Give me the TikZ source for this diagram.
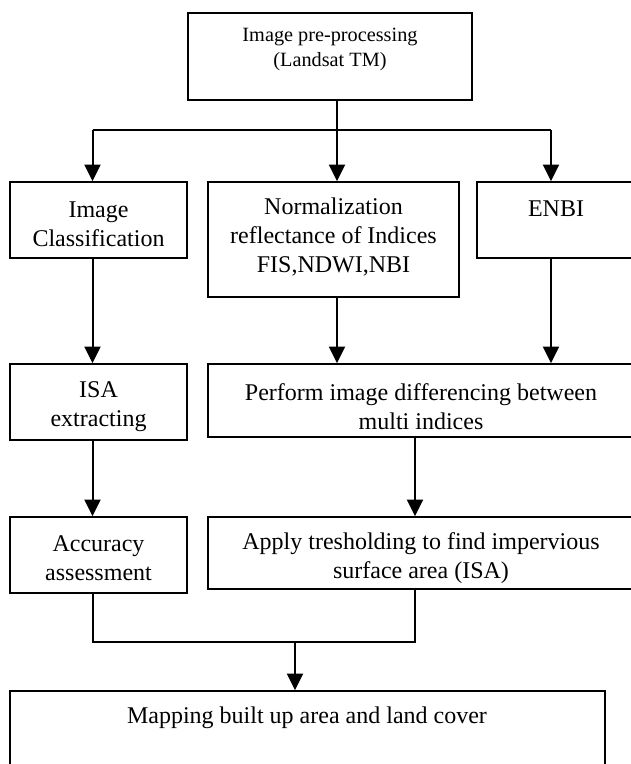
\documentclass[tikz,border=0pt]{standalone}
\usepackage{fontspec}
\setmainfont{Liberation Serif}
\usetikzlibrary{arrows.meta,fit,calc}
\begin{document}
\begin{tikzpicture}[x=0.75pt,y=-0.75pt,
  box/.style={draw=black,line width=1.2pt,inner sep=0pt,fill=none},
  txt/.style={align=center,inner sep=0pt,font=\fontsize{18}{21.75}\selectfont},
  smalltxt/.style={align=center,inner sep=0pt,font=\fontsize{15.2}{18.75}\selectfont},
  conn/.style={line width=1.5pt},
  arr/.style={line width=1.5pt,-{Triangle[length=12.5pt,width=12pt]}}]
\useasboundingbox (0,0) rectangle (631,764);
\fill[white] (0,0) rectangle (631,764);
\clip (0,0) rectangle (631,764);
% boxes
\node[box,fit={(188,13) (472,100)}] (top) {};
\node[box,fit={(10,182) (187,258)}] (cls) {};
\node[box,fit={(208,182) (459,297)}] (norm) {};
\node[box,fit={(477,182) (636,258)}] (enbi) {};
\node[box,fit={(10,364) (187,440)}] (isa) {};
\node[box,fit={(208,364) (636,437)}] (perf) {};
\node[box,fit={(10,517) (187,593)}] (acc) {};
\node[box,fit={(208,517) (636,589)}] (apply) {};
\node[box,fit={(10,691) (605,800)}] (map) {};
% texts
\node[smalltxt] (topt) at (330,49.5) {Image pre-processing\\(Landsat TM)};
\node[txt] (clst) at (98.5,224) {Image\\Classification};
\node[txt] (normt) at (333.5,237.5) {Normalization\\reflectance of Indices\\FIS,NDWI,NBI};
\node[txt] (enbit) at (556,209) {ENBI};
\node[txt] (isat) at (98.5,406.5) {ISA\\extracting};
\node[txt] (perft) at (421,406.5) {Perform image differencing between\\multi indices};
\node[txt] (acct) at (98.5,558) {Accuracy\\assessment};
\node[txt] (applyt) at (421,558) {Apply tresholding to find impervious\\surface area (ISA)};
\node[txt] (mapt) at (307,718) {Mapping built up area and land cover};
% connector coordinates
\coordinate (xl) at (92.5,130);
\coordinate (xm) at (337,130);
\coordinate (xr) at (551,130);
\coordinate (xa) at (415,0);
\coordinate (jl) at (92.5,642);
\coordinate (jr) at (415,642);
\coordinate (jm) at (295,642);
% connectors
\draw[arr] (top.south -| xm) -- (norm.north -| xm);
\draw[conn] (xl) -- (xr);
\draw[arr] (xl) -- (cls.north -| xl);
\draw[arr] (xr) -- (enbi.north -| xr);
\draw[arr] (cls.south -| xl) -- (isa.north -| xl);
\draw[arr] (norm.south -| xm) -- (perf.north -| xm);
\draw[arr] (enbi.south -| xr) -- (perf.north -| xr);
\draw[arr] (isa.south -| xl) -- (acc.north -| xl);
\draw[arr] (perf.south -| xa) -- (apply.north -| xa);
\draw[conn] (acc.south -| jl) -- (jl) -- (jr) -- (apply.south -| jr);
\draw[arr] (jm) -- (map.north -| jm);
\end{tikzpicture}
\end{document}
